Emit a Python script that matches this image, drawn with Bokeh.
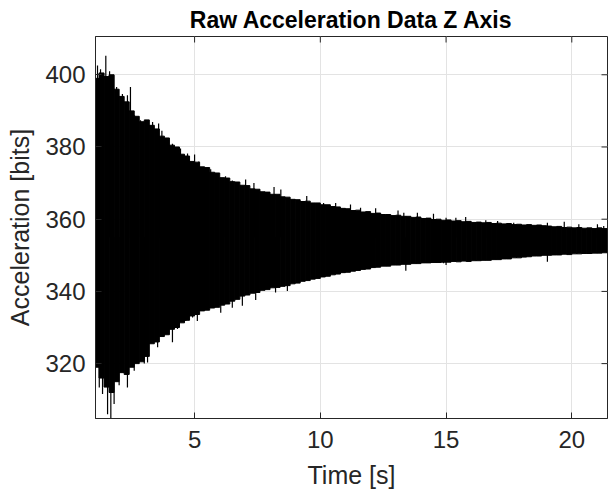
from math import pi
from bokeh.plotting import figure
from bokeh.models import FixedTicker, Range1d
from bokeh.embed import file_html
from bokeh.resources import INLINE

# ---- data ----
time_s = [1.1, 1.3, 1.5, 1.7, 1.9, 2.1, 2.3, 2.5, 2.7, 2.9,
          3.1, 3.3, 3.5, 3.7, 3.9, 4.1, 4.3, 4.5, 4.7, 4.9,
          5.1, 5.3, 5.5, 5.7, 5.9, 6.1, 6.3, 6.5, 6.7, 6.9,
          7.1, 7.3, 7.5, 7.7, 7.9, 8.1, 8.3, 8.5, 8.7, 8.9,
          9.1, 9.3, 9.5, 9.7, 9.9, 10.1, 10.3, 10.5, 10.7, 10.9,
          11.1, 11.3, 11.5, 11.7, 11.9, 12.1, 12.3, 12.5, 12.7, 12.9,
          13.1, 13.3, 13.5, 13.7, 13.9, 14.1, 14.3, 14.5, 14.7, 14.9,
          15.1, 15.3, 15.5, 15.7, 15.9, 16.1, 16.3, 16.5, 16.7, 16.9,
          17.1, 17.3, 17.5, 17.7, 17.9, 18.1, 18.3, 18.5, 18.7, 18.9,
          19.1, 19.3, 19.5, 19.7, 19.9, 20.1, 20.3, 20.5, 20.7, 20.9,
          21.1, 21.3]

upper_env = [399.0, 400.5, 399.5, 400.0, 396.0, 394.0, 392.5, 390.0, 388.5, 387.0,
             387.5, 386.0, 385.0, 383.0, 382.5, 380.5, 380.0, 378.0, 377.5, 376.0,
             375.8, 374.5, 374.3, 373.0, 372.8, 371.5, 371.4, 370.4, 370.3, 369.4,
             369.3, 368.4, 368.3, 367.6, 367.5, 366.9, 366.9, 366.2, 366.1, 365.5,
             365.4, 364.9, 365.0, 364.5, 364.5, 364.0, 364.0, 363.5, 363.4, 363.0,
             362.9, 362.4, 362.5, 362.0, 362.1, 361.6, 361.7, 361.3, 361.3, 361.0,
             361.1, 360.8, 360.8, 360.5, 360.6, 360.2, 360.3, 359.9, 360.0, 359.7,
             359.8, 359.5, 359.6, 359.3, 359.4, 359.1, 359.2, 359.0, 359.1, 358.8,
             358.9, 358.7, 358.8, 358.5, 358.6, 358.4, 358.5, 358.3, 358.4, 358.2,
             358.1, 357.9, 358.0, 357.7, 357.8, 357.6, 357.7, 357.5, 357.6, 357.4,
             357.6, 357.4]

lower_env = [319.0, 316.0, 313.5, 312.0, 315.0, 317.5, 317.0, 319.0, 320.0, 320.5,
             322.0, 325.5, 326.0, 327.5, 328.0, 329.5, 330.0, 331.3, 332.0, 333.2,
             333.6, 334.6, 334.8, 335.4, 335.6, 336.2, 336.5, 337.3, 337.8, 338.7,
             339.0, 339.5, 339.7, 340.3, 340.5, 341.0, 341.1, 341.4, 341.6, 342.1,
             342.3, 342.8, 343.0, 343.4, 343.6, 344.0, 344.2, 344.6, 344.8, 345.2,
             345.3, 345.6, 345.8, 346.1, 346.2, 346.6, 346.7, 347.0, 347.0, 347.3,
             347.3, 347.5, 347.5, 347.7, 347.7, 347.9, 347.9, 348.0, 348.0, 348.1,
             348.1, 348.3, 348.2, 348.4, 348.3, 348.5, 348.5, 348.6, 348.6, 348.8,
             348.8, 349.0, 349.0, 349.3, 349.3, 349.5, 349.6, 349.8, 349.8, 350.0,
             350.0, 350.1, 350.1, 350.3, 350.2, 350.4, 350.4, 350.5, 350.5, 350.6,
             350.6, 350.7]

# isolated peaks above / below the dense band
peak_up_t = [1.14, 1.26, 1.47, 1.62, 1.78, 1.90, 2.13, 2.33, 2.45, 2.61,
             2.85, 3.09, 3.33, 3.57, 3.70, 3.85, 4.12, 4.44, 4.72, 5.00,
             5.17, 5.64, 6.23, 6.50, 7.03, 7.36, 8.16, 8.43, 9.46, 10.13,
             10.61, 11.20, 11.60, 12.20, 13.09, 13.32, 13.86, 14.50, 15.00, 15.39,
             15.78, 16.58, 17.05, 17.69, 19.03, 19.70, 20.28, 21.02, 21.27]
peak_up_v = [402.6, 401.5, 405.3, 401.0, 399.8, 396.6, 394.7, 394.3, 396.6, 388.8,
             387.4, 387.1, 386.9, 386.5, 384.5, 381.8, 380.9, 379.6, 378.2, 377.9,
             376.0, 373.8, 371.9, 370.7, 371.0, 370.0, 368.9, 368.2, 366.4, 364.5,
             364.5, 364.1, 363.2, 363.0, 362.4, 361.8, 361.8, 361.5, 360.4, 360.4,
             360.6, 359.7, 359.5, 359.0, 359.0, 359.3, 358.6, 358.6, 358.1]
peak_dn_t = [1.21, 1.34, 1.54, 1.67, 1.80, 2.00, 2.33, 2.60, 3.00, 3.13,
             3.53, 4.12, 4.32, 4.65, 4.92, 5.11, 6.04, 6.50, 6.90, 7.43,
             8.22, 8.69, 13.40, 14.90, 15.00, 19.03]
peak_dn_v = [313.4, 311.6, 306.0, 304.5, 308.8, 314.0, 313.4, 318.0, 320.0, 320.3,
             324.5, 325.9, 329.6, 331.8, 332.8, 331.8, 334.1, 335.5, 336.0, 337.6,
             339.7, 340.1, 345.7, 347.8, 347.3, 348.2]
signal_mean = 355.0

x_ticks = [5, 10, 15, 20]
y_ticks = [320, 340, 360, 380, 400]
x_lim = (1.06, 21.42)
y_lim = (304.8, 410.6)
sample_width = 0.2

AX = "#262626"
FONT = "Liberation Sans"

p = figure(width=611, height=497,
           x_range=Range1d(*x_lim), y_range=Range1d(*y_lim),
           output_backend="svg", toolbar_location=None,
           min_border_left=95, min_border_right=4,
           min_border_top=35, min_border_bottom=79)

p.title.text = "Raw Acceleration Data Z Axis"
p.title.align = "center"
p.title.text_font = FONT
p.title.text_font_size = "23px"
p.title.text_font_style = "bold"
p.title.text_color = "#000000"
p.title.standoff = 8

p.outline_line_color = AX
p.outline_line_width = 1

p.vbar(x=time_s, width=sample_width, bottom=lower_env, top=upper_env,
       fill_color="black", line_color="black", line_width=1)
p.segment(x0=peak_up_t, y0=signal_mean, x1=peak_up_t, y1=peak_up_v,
          line_color="black", line_width=1.2)
p.segment(x0=peak_dn_t, y0=signal_mean, x1=peak_dn_t, y1=peak_dn_v,
          line_color="black", line_width=1.2)

for ax, ticks in ((p.xaxis[0], x_ticks), (p.yaxis[0], y_ticks)):
    ax.ticker = FixedTicker(ticks=ticks)
    ax.major_tick_in = 6
    ax.major_tick_out = 0
    ax.minor_tick_line_color = None
    ax.axis_line_color = AX
    ax.major_tick_line_color = AX
    ax.major_label_text_font = FONT
    ax.major_label_text_font_size = "24px"
    ax.major_label_text_color = AX
    ax.axis_label_text_font = FONT
    ax.axis_label_text_font_size = "25px"
    ax.axis_label_text_font_style = "normal"
    ax.axis_label_text_color = AX

p.xaxis.axis_label = "Time [s]"
p.yaxis.axis_label = "Acceleration [bits]"
p.xaxis.major_label_standoff = 12
p.yaxis.major_label_standoff = 10
p.xaxis.axis_label_standoff = 10
p.yaxis.axis_label_standoff = 8

# box ticks on the top and right edges (inner half of a dash marker, clipped by the frame)
p.scatter(x=x_ticks, y=[y_lim[1]] * len(x_ticks), marker="dash", angle=pi / 2,
          size=12, line_color=AX, line_width=1)
p.scatter(x=[x_lim[1]] * len(y_ticks), y=y_ticks, marker="dash",
          size=12, line_color=AX, line_width=1)

p.xgrid.ticker = FixedTicker(ticks=x_ticks)
p.ygrid.ticker = FixedTicker(ticks=y_ticks)
p.grid.grid_line_color = "#e3e3e3"
p.grid.grid_line_width = 1

open("out.html", "w").write(file_html(p, INLINE))
